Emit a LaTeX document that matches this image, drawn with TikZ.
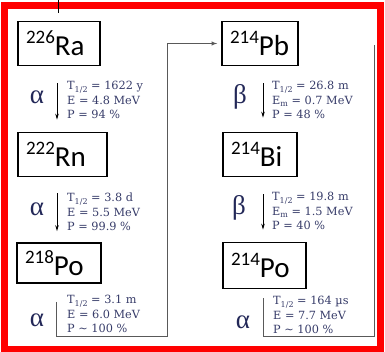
\documentclass[tikz,border=0pt]{standalone}
\usepackage{fontspec}
\newfontfamily\nucfont{Carlito}
\newfontfamily\infofont{DejaVu Serif}
\newfontfamily\greekfont{Liberation Serif}
\usetikzlibrary{arrows.meta}
\definecolor{labcol}{RGB}{55,60,105}
\definecolor{kindcol}{RGB}{35,40,88}
\definecolor{framered}{RGB}{255,0,0}
\newcommand{\nuc}[2]{{\fontsize{19}{19}\selectfont\raisebox{12pt}{#1}}#2}
\newcommand{\lowidx}[1]{{\fontsize{8}{8}\selectfont\raisebox{-2.5pt}{#1}}}
\tikzset{
  nuclide/.style={draw, line width=1.7pt, minimum height=44pt, inner ysep=0pt,
    inner xsep=8pt, text width=#1, align=left,
    font=\nucfont\fontsize{29}{29}\selectfont},
  decay/.style={-{Stealth[length=6pt,width=3.5pt]}, line width=0.8pt},
  chain/.style={draw=gray!70!black, line width=0.9pt},
  info/.style={anchor=west, align=left, text=labcol, inner sep=0pt,
    font=\infofont\fontsize{11.3}{14.5}\selectfont},
  kind/.style={text=kindcol, inner sep=0pt, font=\greekfont\fontsize{27}{27}\selectfont},
}
\begin{document}
\begin{tikzpicture}[x=1pt, y=-1pt, >=latex]
  \useasboundingbox (0,0) rectangle (385,352);
  % frame
  \draw[framered, line width=7pt] (4,5.5) rectangle (380,349.5);
  \coordinate (top) at (58,0);
  \coordinate (topend) at (58,13);
  \draw[line width=0.8pt] (top) -- (topend);
  % left column
  \node[nuclide=66pt] (ra) at (59,43.5) {\nuc{226}{Ra}};
  \node[nuclide=73pt] (rn) at (62.5,154.5) {\nuc{222}{Rn}};
  \node[nuclide=68pt, minimum height=40pt] (poa) at (59,263) {\nuc{218}{Po}};
  \draw[decay] ([xshift=-2pt,yshift=-17pt]ra.south) -- ([xshift=-5.5pt,yshift=12pt]rn.north);
  \draw[decay] ([xshift=-5.5pt,yshift=-16pt]rn.south) -- ([xshift=-2pt,yshift=11pt]poa.north);
  \node[kind] (k1) at (37,97) {α};
  \node[kind] (k2) at (37,209) {α};
  \node[kind] (k3) at (37,320) {α};
  \node[info] (i1) at (67,100) {T\lowidx{1/2} = 1622 y\\E = 4.8 MeV\\P = 94 \%};
  \node[info] (i2) at (67,212) {T\lowidx{1/2} = 3.8 d\\E = 5.5 MeV\\P = 99.9 \%};
  \node[info] (i3) at (67,314) {T\lowidx{1/2} = 3.1 m\\E = 6.0 MeV\\P \char"223C{} 100 \%};
  % right column
  \node[nuclide=60pt] (pb) at (260,43.5) {\nuc{214}{Pb}};
  \node[nuclide=58pt] (bi) at (260,154.5) {\nuc{214}{Bi}};
  \node[nuclide=67pt, minimum height=46pt] (pob) at (264.5,265.5) {\nuc{214}{Po}};
  \draw[decay] ([xshift=3pt,yshift=-17pt]pb.south) -- ([xshift=3pt,yshift=14pt]bi.north);
  \draw[decay] ([xshift=3pt,yshift=-17pt]bi.south) -- ([xshift=-1.5pt,yshift=12pt]pob.north);
  \node[kind] (k4) at (240,97) {β};
  \node[kind] (k5) at (239,208) {β};
  \node[kind] (k6) at (243,322) {α};
  \node[info] (i4) at (272,100) {T\lowidx{1/2} = 26.8 m\\E\lowidx{m} = 0.7 MeV\\P = 48 \%};
  \node[info] (i5) at (272,211) {T\lowidx{1/2} = 19.8 m\\E\lowidx{m} = 1.5 MeV\\P = 40 \%};
  \node[info] (i6) at (273,315) {T\lowidx{1/2} = 164 µs\\E = 7.7 MeV\\P \char"223C{} 100 \%};
  % chain links
  \coordinate (lbend) at (167,336);
  \coordinate (rbend) at (374,336);
  \coordinate (rtop) at (374,45);
  \draw[chain, ->, shorten >=4pt] ([xshift=-3pt,yshift=-18pt]poa.south) |- (lbend) |- (pb.west);
  \draw[chain] ([xshift=-1.5pt,yshift=-9pt]pob.south) |- (rbend) -- (rtop);
\end{tikzpicture}
\end{document}
